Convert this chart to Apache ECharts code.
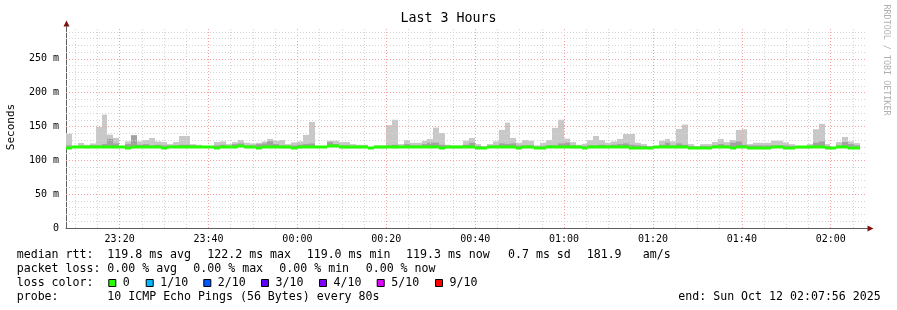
<!DOCTYPE html>
<html><head><meta charset="utf-8">
<script src="https://cdn.jsdelivr.net/npm/echarts@6/dist/echarts.min.js"></script>
<style>html,body{margin:0;padding:0;background:#fff}#c{width:897px;height:310px}</style>
</head><body><div id="c"></div>
<script>
// ---------- data ----------
const startTime = '23:07:56';   // Sat Oct 11
const stepSeconds = 80;
const spanSeconds = 10800;
const xTickLabels = ['23:20','23:40','00:00','00:20','00:40','01:00','01:20','01:40','02:00'];
const yTickValues = [0, 50, 100, 150, 200, 250];

const median = [
118.8,119.6,120.2,119.0,120.0,120.3,119.2,119.2,119.2,119.6,118.8,120.0,119.8,120.0,119.2,119.6,118.8,119.8,119.6,119.2,119.2,120.0,119.6,119.8,119.8,118.8,120.0,119.6,120.4,121.0,119.2,119.8,118.8,119.6,
120.0,120.2,119.0,119.0,118.8,119.0,120.0,120.2,119.6,119.6,121.0,121.4,119.0,119.0,119.0,119.0,119.2,118.4,119.0,119.0,119.2,119.0,119.4,119.4,119.6,119.6,119.8,119.8,119.4,118.4,119.0,119.0,119.0,119.6,
119.2,118.6,118.6,119.6,119.6,119.8,120.2,119.8,118.8,119.2,119.2,118.6,118.6,119.6,119.6,119.6,119.8,119.0,119.0,118.8,119.2,119.2,119.6,119.6,119.8,119.8,119.4,118.6,118.6,118.6,118.6,119.0,119.6,119.2,
119.8,119.2,119.2,118.8,118.8,118.8,118.8,119.2,119.6,119.2,118.8,119.8,119.8,118.6,118.6,118.6,118.6,119.2,119.2,118.8,118.8,119.0,119.0,119.0,120.0,120.2,118.8,118.4,119.6,119.6,118.8,118.8
];
const smokeLow = [
117.8,118.6,119.2,118.0,119.0,119.3,118.2,118.2,118.2,118.6,117.8,119.0,118.8,119.0,118.2,118.6,117.8,118.8,118.6,118.2,118.2,119.0,118.6,118.8,118.8,117.8,119.0,118.6,119.4,120.0,118.2,118.8,117.8,118.6,
119.0,119.2,118.0,118.0,117.8,118.0,119.0,119.2,118.6,118.6,120.0,120.4,118.0,118.0,118.0,118.0,118.2,117.4,118.0,118.0,118.2,118.0,118.4,118.4,118.6,118.6,118.8,118.8,118.4,117.4,118.0,118.0,118.0,118.6,
118.2,117.6,117.6,118.6,118.6,118.8,119.2,118.8,117.8,118.2,118.2,117.6,117.6,118.6,118.6,118.6,118.8,118.0,118.0,117.8,118.2,118.2,118.6,118.6,118.8,118.8,118.4,117.6,117.6,117.6,117.6,118.0,118.6,118.2,
118.8,118.2,118.2,117.8,117.8,117.8,117.8,118.2,118.6,118.2,117.8,118.8,118.8,117.6,117.6,117.6,117.6,118.2,118.2,117.8,117.8,118.0,118.0,118.0,119.0,119.2,117.8,117.4,118.6,118.6,117.8,117.8
];
const smokeMid = [
122,120.5,121,121,122,122,124,131.6,125,120.5,124,137,123,124,122,123,122,121,122,123,123,122,121,120,120,122,123,121,124,125,122,122,124,125,
128,124,122,121,122,123,124,125,120.5,120.5,127,124,122,122,121,121,121,119.5,120.5,120.5,122,123,121,124,122,122,124,126,126,123,121,120.5,120.5,123,
126,121,120,121,122,125,124,125,122,122,122,120.5,121,122,122,125,126,122,121,121,122,122,123,122,123,124,125,123,122,121,120.5,120.5,123,126,
122,125,123,121,120.5,121,121,122,124,122,126,128,123,122,122,122,122,122,122,122,121,120.5,120,121,126,128,121,119.5,122,127,124,122
];
const smokeHigh = [
139.5,120,125.7,123,125,149.4,167.6,138,133,121,128,137,128,130,133,128,127,124,127,136,136,124,123,121,121,127,128,124,127,130,126,125,126,128,
131.6,129,130,124,126.5,128,137.6,156.8,121,121,129,129,127,127,124,123,123,120,122,122,152,160,124,130,126,126,129,131.6,148.4,140.5,123,122,122,129,
133,124,121,124,128,145,155.8,133,126,130,129,122,126,130,148,160,132,127,123,124.5,130,136,130,126,128,131.6,139,139,126,124,121,121,129,131.6,
128,146.4,152.9,124,121,124,124,127,131.6,127,130,145,146,124,126,126,126,129,129,126.5,124,121,120.5,124,146,154,124,120,127,134.6,128,125.5
];

const statsMedianLabel = 'median rtt:';
const statsMedian = ['119.8 ms avg','122.2 ms max','119.0 ms min','119.3 ms now','0.7 ms sd','181.9','am/s'];
const statsLossLabel = 'packet loss:';
const statsLoss = ['0.00 % avg','0.00 % max','0.00 % min','0.00 % now'];
const lossLabel = 'loss color:';
const lossLabels = ['0','1/10','2/10','3/10','4/10','5/10','9/10'];
const lossColors = ['#26ff00','#00b8ff','#0059ff','#5e00ff','#7e00ff','#dd00ff','#ff0000'];
const probeLabel = 'probe:';
const probeText = '10 ICMP Echo Pings (56 Bytes) every 80s';
const endText = 'end: Sun Oct 12 02:07:56 2025';
const titleText = 'Last 3 Hours';
const yAxisTitle = 'Seconds';
const watermark = 'RRDTOOL / TOBI OETIKER';

// ---------- helpers ----------
function toSec(hms) { // seconds since Oct 11 23:00:00
  const p = hms.split(':').map(Number);
  let h = p[0]; if (h < 12) h += 24;
  return (h - 23) * 3600 + p[1] * 60 + (p[2] || 0);
}
function fmt(sec) {
  let m = Math.round(sec / 60) + 23 * 60;
  const h = Math.floor(m / 60) % 24, mm = m % 60;
  return String(h).padStart(2, '0') + ':' + String(mm).padStart(2, '0');
}
const t0 = toSec(startTime);
const times = median.map((_, i) => t0 + i * stepSeconds);
const lightData = times.map((t, i) => [t, smokeLow[i], smokeHigh[i]]);
const midData = times.map((t, i) => [t, smokeLow[i], smokeMid[i]]);
const medData = times.map((t, i) => [t, median[i]]);
const xTickValues = xTickLabels.map(toSec);

const MONO = "'DejaVu Sans Mono', monospace";

function bandRender(color) {
  return function (params, api) {
    const t = api.value(0), a = api.value(1), b = api.value(2);
    const p0 = api.coord([t, b]);
    const p1 = api.coord([t + stepSeconds, a]);
    const x0 = Math.round(p0[0]), x1 = Math.round(p1[0]);
    return { type: 'rect', shape: { x: x0, y: p0[1], width: x1 - x0, height: p1[1] - p0[1] },
      style: { fill: color } };
  };
}
function medRender(params, api) {
  const t = api.value(0), v = api.value(1);
  const p0 = api.coord([t, v]);
  const p1 = api.coord([t + stepSeconds, v]);
  const x0 = Math.round(p0[0]), x1 = Math.round(p1[0]);
  return { type: 'rect', shape: { x: x0, y: Math.round(p0[1]) - 1.5, width: x1 - x0, height: 3 },
    style: { fill: lossColors[0] } };
}

// grid lines (styling)
const gridMarks = [];
const minorStyle = { color: '#d4d4d4', width: 1, type: [1, 2] };
const majorStyle = { color: '#f2a0a0', width: 1, type: [1, 2] };
for (let s = 600; s < t0 + spanSeconds; s += 300) {
  if (s <= t0) continue;
  gridMarks.push({ xAxis: s, lineStyle: (s % 1200 === 0) ? majorStyle : minorStyle });
}
for (let v = 10; v <= 290; v += 10) {
  gridMarks.push({ yAxis: v, lineStyle: (v % 50 === 0) ? majorStyle : minorStyle });
}

const chart = echarts.init(document.getElementById('c'), null, { renderer: 'canvas' });
const rows = [255, 268.5, 282.5, 296.5];
function txt(x, y, s, extra) {
  return Object.assign({ type: 'text', x: x, y: y, silent: true,
    style: { text: s, font: '11.6px ' + MONO, fill: '#000', align: 'left', verticalAlign: 'middle' } }, extra || {});
}
const statsX = [107.3, 207.3, 306.7, 406, 508, 586.7, 642.7];
const lossX = [107.3, 193.3, 279.3, 365.7];
const boxX = [108.3, 145.7, 203.3, 261, 319, 376.7, 435];
const graphics = [];
graphics.push({ type: 'text', x: 448.5, y: 19, silent: true,
  style: { text: titleText, font: '13.3px ' + MONO, fill: '#000', align: 'center', verticalAlign: 'middle' } });
graphics.push({ type: 'text', x: 11, y: 127, rotation: Math.PI / 2, silent: true,
  style: { text: yAxisTitle, font: '11px ' + MONO, fill: '#000', align: 'center', verticalAlign: 'middle' } });
graphics.push({ type: 'text', x: 886, y: 60, rotation: -Math.PI / 2, silent: true,
  style: { text: watermark, font: '8.4px ' + MONO, fill: '#b0b0b0', align: 'center', verticalAlign: 'middle' } });
graphics.push(txt(16.7, rows[0], statsMedianLabel));
statsMedian.forEach((s, i) => graphics.push(txt(statsX[i], rows[0], s)));
graphics.push(txt(16.7, rows[1], statsLossLabel));
statsLoss.forEach((s, i) => graphics.push(txt(lossX[i], rows[1], s)));
graphics.push(txt(16.7, rows[2], lossLabel));
lossLabels.forEach((s, i) => {
  graphics.push({ type: 'rect', silent: true, shape: { x: boxX[i] + 0.5, y: 279.5, width: 7, height: 7 },
    style: { fill: lossColors[i], stroke: '#000', lineWidth: 1 } });
  graphics.push(txt(boxX[i] + 14.5, rows[2], s));
});
graphics.push(txt(16.7, rows[3], probeLabel));
graphics.push(txt(107.3, rows[3], probeText));
graphics.push(txt(678.3, rows[3], endText));
// axis arrows
graphics.push({ type: 'polygon', silent: true, shape: { points: [[66.5, 20.5], [63.5, 26.5], [69.5, 26.5]] }, style: { fill: '#801010' } });
graphics.push({ type: 'polygon', silent: true, shape: { points: [[873.5, 228.5], [867.5, 225.5], [867.5, 231.5]] }, style: { fill: '#801010' } });
graphics.push({ type: 'line', silent: true, shape: { x1: 66.5, y1: 26, x2: 66.5, y2: 28 }, style: { stroke: '#606060', lineWidth: 1 } });
graphics.push({ type: 'line', silent: true, shape: { x1: 866, y1: 228.5, x2: 868, y2: 228.5 }, style: { stroke: '#606060', lineWidth: 1 } });

chart.setOption({
  animation: false,
  backgroundColor: '#fff',
  grid: { left: 66, right: 31, top: 27, bottom: 82, containLabel: false },
  xAxis: {
    type: 'value', min: t0, max: t0 + spanSeconds,
    splitLine: { show: false },
    axisTick: { show: false },
    axisLine: { show: true, onZero: false, lineStyle: { color: '#606060', width: 1 } },
    axisLabel: { customValues: xTickValues, formatter: v => fmt(v), fontFamily: 'DejaVu Sans Mono', fontSize: 10, color: '#000', margin: 6 }
  },
  yAxis: {
    type: 'value', min: 0, max: 297.1, interval: 50,
    splitLine: { show: false },
    axisTick: { show: false },
    axisLine: { show: true, lineStyle: { color: '#606060', width: 1 } },
    axisLabel: { showMaxLabel: false, formatter: v => v === 0 ? '0' : v + ' m', fontFamily: 'DejaVu Sans Mono', fontSize: 10, color: '#000', margin: 7 }
  },
  series: [
    { type: 'custom', name: 'smoke', z: 2, silent: true, renderItem: bandRender('#c8c8c8'), data: lightData, encode: { x: 0, y: [1, 2] } },
    { type: 'custom', name: 'smoke2', z: 2, silent: true, renderItem: bandRender('#a2a2a2'), data: midData, encode: { x: 0, y: [1, 2] } },
    { type: 'line', name: 'grid', z: 3, silent: true, data: [],
      markLine: { silent: true, symbol: ['none', 'none'], label: { show: false }, animation: false, data: gridMarks } },
    { type: 'custom', name: 'median', z: 10, silent: true, renderItem: medRender, data: medData, encode: { x: 0, y: 1 } }
  ],
  graphic: graphics
});
</script>
</body></html>
